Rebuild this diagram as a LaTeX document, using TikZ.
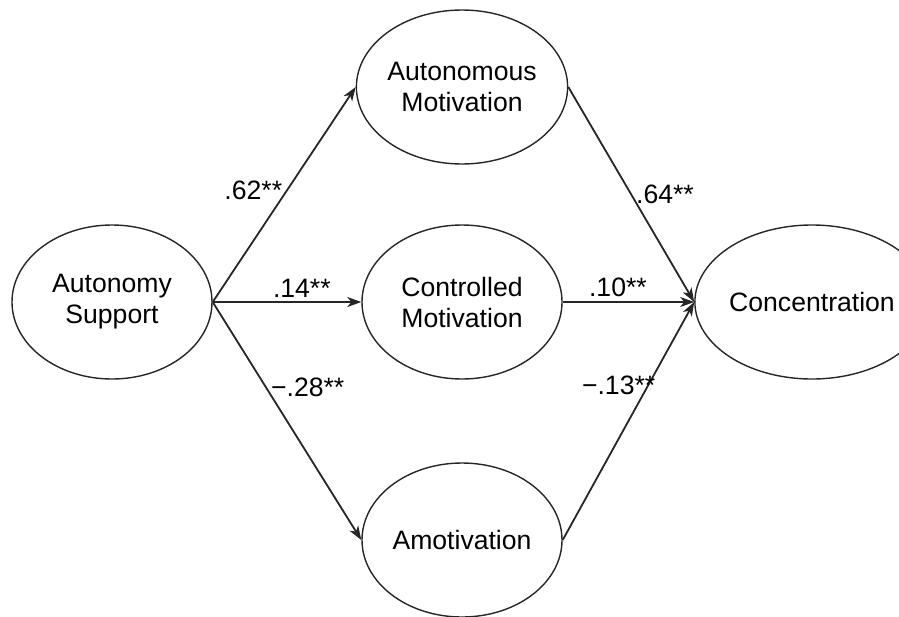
\documentclass[tikz,border=0pt]{standalone}
\usepackage{fontspec}
\setmainfont{Liberation Sans}
\usetikzlibrary{shapes.geometric,arrows.meta}

\tikzset{
    var/.style={shape=ellipse,draw=black!85,line width=0.7pt,minimum width=100pt,minimum height=77pt,inner sep=0pt,align=center,font=\fontsize{13.3}{15.5}\selectfont},
    coef/.style={font=\fontsize{13.3}{15.5}\selectfont,inner sep=2pt},
    link/.style={line width=0.9pt,draw=black!85,-{Stealth[length=7pt,width=5pt,inset=2pt]}}
}

\begin{document}
\begin{tikzpicture}[x=0.5pt,y=-0.5pt]
        \useasboundingbox (0,0) rectangle (899,616);

        \node[var] (as)  at (112, 302) {Autonomy\\Support};
        \node[var] (am)  at (462, 87)  {Autonomous\\Motivation};
        \node[var] (cm)  at (462, 302) {Controlled\\Motivation};
        \node[var] (amo) at (462, 540) {Amotivation};
        \node[var] (con) at (812, 302) {Concentration};

	\path (as.east) edge[link] node[coef,pos=0.52,left]{.62**} (am.west);
	\path (as.east) edge[link] node[coef,pos=0.6,above]{.14**} (cm.west);
	\path (as.east) edge[link] node[coef,pos=0.36,right]{−.28**} (amo.west);
	\path (am.east) edge[link] node[coef,pos=0.5,right]{.64**} (con.west);
	\path (cm.east) edge[link] node[coef,pos=0.42,above]{.10**} (con.west);
	\path (amo.east) edge[link] node[coef,pos=0.65,left,xshift=6pt]{−.13**} (con.west);
	\end{tikzpicture}
\end{document}
